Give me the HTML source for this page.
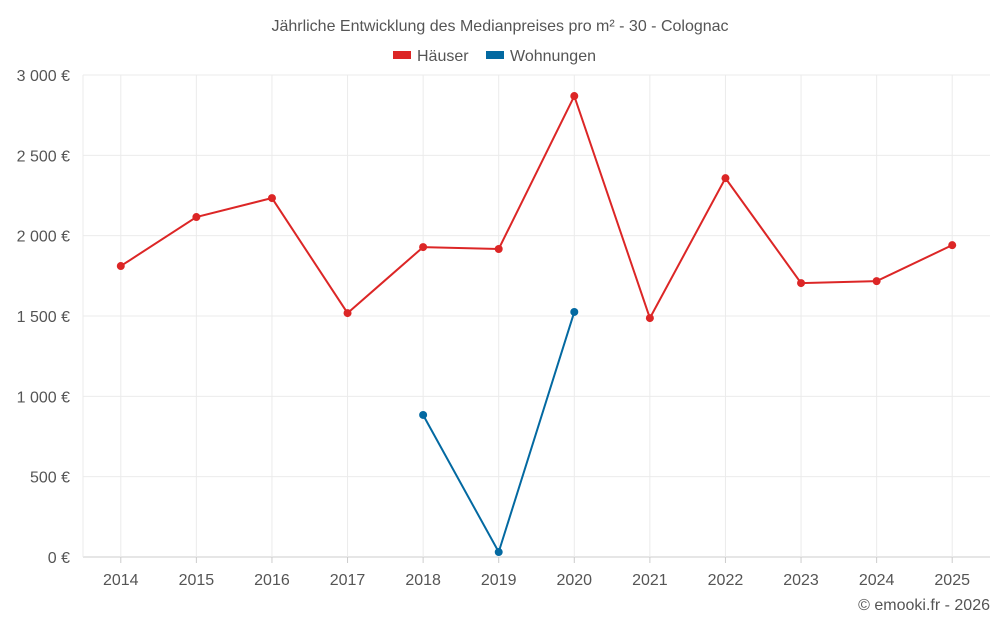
<!DOCTYPE html>
<html><head><meta charset="utf-8"><style>
body{margin:0;background:#fff;font-family:"Liberation Sans",sans-serif;}
svg text{font-family:"Liberation Sans",sans-serif;fill:#555;}
</style></head><body>
<svg id="c" width="1000" height="625">
<text x="500" y="31" text-anchor="middle" font-size="16">Jährliche Entwicklung des Medianpreises pro m² - 30 - Colognac</text>
<g>
<g><rect x="393" y="51" width="18" height="8" fill="#dc2626"/><text x="417" y="61" font-size="16">Häuser</text></g>
<g><rect x="486" y="51" width="18" height="8" fill="#0369a1"/><text x="510" y="61" font-size="16">Wohnungen</text></g>
</g>
<g id="grid"></g><g id="axes"></g><g id="series"></g>
<text x="990" y="610" text-anchor="end" font-size="16">© emooki.fr - 2026</text>
</svg>
<script>
const categories=["2014","2015","2016","2017","2018","2019","2020","2021","2022","2023","2024","2025"];
const haeuser=[1811,2116,2234,1518,1929,1917,2869,1487,2358,1705,1717,1941];
const wohnungen=[null,null,null,null,884,31,1525,null,null,null,null,null];
const yTicks=[0,500,1000,1500,2000,2500,3000];
const yTickLabels=["0 €","500 €","1 000 €","1 500 €","2 000 €","2 500 €","3 000 €"];
const L=83,R=990,T=75,B=557,ymax=3000;
const bw=(R-L)/categories.length;
const x=i=>L+bw*(i+0.5);
const y=v=>B-(v/ymax)*(B-T);
const ns="http://www.w3.org/2000/svg";
function mk(tag,attrs,parent){const e=document.createElementNS(ns,tag);for(const k in attrs)e.setAttribute(k,attrs[k]);document.getElementById(parent).appendChild(e);return e;}
yTicks.forEach((t,i)=>{
 const g=mk("line",{x1:L,x2:R,y1:y(t),y2:y(t),stroke:t===0?"#ccc":"#ebebeb"},"grid");
 
 
 const tx=mk("text",{x:70,y:y(t)+6,"text-anchor":"end","font-size":"16"},"axes");
 tx.textContent=yTickLabels[i];
 
 
});
const g0=mk("line",{x1:L,x2:L,y1:T,y2:B,stroke:"#ebebeb"},"grid");


categories.forEach((c,i)=>{
 const g=mk("line",{x1:x(i),x2:x(i),y1:T,y2:B,stroke:"#ebebeb"},"grid");
 
 
 const tx=mk("text",{x:x(i),y:585,"text-anchor":"middle","font-size":"16"},"axes");
 tx.textContent=c;
 
 
 const tk=mk("line",{x1:x(i),x2:x(i),y1:B,y2:B+6,stroke:"#ccc"},"axes");
 
 
});
function drawSeries(vals,color,name){
 const pts=vals.map((v,i)=>v==null?null:[x(i),y(v)]).filter(p=>p);
 const pl=mk("polyline",{points:pts.map(p=>p.join(",")).join(" "),fill:"none",stroke:color,"stroke-width":2},"series");
 
 
 pts.forEach(p=>{
  const c=mk("circle",{cx:p[0],cy:p[1],r:4,fill:color},"series");
  
  
 });
}
drawSeries(haeuser,"#dc2626","haeuser");
drawSeries(wohnungen,"#0369a1","wohnungen");
</script>
</body></html>
